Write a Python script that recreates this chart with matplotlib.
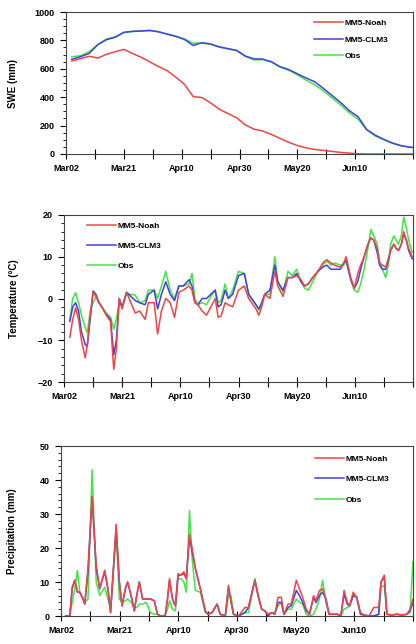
import matplotlib.pyplot as plt
from matplotlib.ticker import MultipleLocator

plt.rcParams['font.family'] = ['Liberation Sans', 'DejaVu Sans']
plt.rcParams['font.weight'] = 'bold'

# x axis: days after Mar02
tick_days = [0, 20, 40, 60, 80, 100]
tick_labels = ['Mar02', 'Mar21', 'Apr10', 'Apr30', 'May20', 'Jun10']
series_names = ['MM5-Noah', 'MM5-CLM3', 'Obs']

# SWE (mm), every 3 days
swe_days = [2, 5, 8, 11, 14, 17, 20, 23, 26, 29, 32, 35, 38, 41, 44, 47, 50, 53, 56, 59,
            62, 65, 68, 71, 74, 77, 80, 83, 86, 89, 92, 95, 98, 101, 104, 107, 110, 113,
            116, 119, 122]
swe_noah = [655, 672, 688, 676, 702, 720, 737, 708, 681, 648, 616, 587, 540, 490, 404, 398,
            360, 315, 285, 255, 205, 175, 162, 138, 110, 82, 60, 43, 32, 25, 18, 11, 6, 2,
            0, 0, 0, 0, 0, 0, 0]
swe_clm3 = [667, 685, 708, 770, 805, 822, 857, 864, 866, 871, 860, 844, 829, 806, 764, 784,
            775, 755, 742, 730, 690, 670, 668, 650, 615, 595, 565, 535, 509, 462, 412, 362,
            305, 262, 172, 132, 102, 76, 58, 48, 43]
swe_obs = [685, 692, 720, 770, 810, 825, 855, 862, 866, 868, 862, 845, 828, 810, 780, 782,
           772, 752, 740, 728, 688, 662, 665, 648, 612, 590, 558, 520, 488, 445, 395, 345,
           290, 245, 170, 126, 100, 75, 57, 47, 42]

# Temperature (degC)
t_days = [2, 3, 4, 5, 6, 7.3, 8, 9, 10, 11, 12, 13, 14.5, 16, 17.1, 18, 19, 20, 21.5, 23,
          24.5, 26, 27.9, 29, 31, 32.2, 33.5, 35, 36.5, 38, 39.5, 41, 43, 44, 45, 46, 47.5,
          49, 50.5, 52, 53, 54, 55.4, 56.5, 58, 60, 62, 63.5, 64.5, 66, 67, 68, 69, 70.8,
          72.5, 73.5, 75.3, 77, 78.5, 80, 81.5, 82.7, 84, 85.5, 87.3, 89, 90.3, 91.8, 93,
          95, 96.2, 97, 98.6, 99.8, 101, 102, 103.2, 104.5, 105.5, 106.5, 107.7, 108.5,
          109.5, 110.6, 111.5, 112.3, 113.4, 114.2, 115, 116, 116.8, 117.7, 118.5, 119.7]
t_noah = [-9.3, -5, -2.2, -5, -10, -14.2, -11, -4, 1.5, 0.5, -1, -2, -4, -5.5, -17, -12, 0,
          -2.5, 1.5, -1, -3.5, -3, -5, -1, -1, -8.5, -3, 0, -1, -4.5, 1.5, 2, 3, 2, -1,
          -1.5, -3, -4, -2, 0, -4.5, -4.2, -1, -1.5, -2, 2, 3, 0, -1, -2.5, -4, -2, 1, 0,
          6.5, 3, 0.5, 5, 5, 5.5, 4.5, 3, 3.5, 5, 6.5, 8.5, 9.3, 8.5, 8, 7.5, 8.5, 10, 5,
          2.5, 6, 8, 10, 13, 14.5, 14, 12, 8.5, 8, 7.5, 9.5, 11.5, 13, 12, 11.5, 13, 16,
          14, 12, 10]
t_clm3 = [-5.5, -2, -1, -3, -8, -11, -11.5, -5, 1.8, 1, -1, -2, -3.8, -5, -13.5, -10, 0,
          -2, 1.5, 0.5, -0.5, -1, -1.5, 1, 2, -2.5, 1, 4, 1, -0.5, 3, 3, 4.5, 3, -1, -1.5,
          0, 0, 1, 2, -2, -1.5, 2, 0, 1, 5.5, 6, 1, 0, -1.5, -2.5, -1, 1, 2, 8, 4, 2, 5,
          5, 6, 4, 3, 3.5, 5, 6.5, 7.5, 8, 7, 7, 7, 8.5, 9, 4.5, 2.5, 4, 7, 10, 13, 14.5,
          14, 11, 8, 7, 7, 9, 11.5, 13, 12, 11.5, 13, 15.5, 14, 11.5, 9.5]
t_obs = [-5, 0, 1.4, -1, -4, -7, -8.2, -3, -1, 0.5, -1, -2, -3.5, -4.5, -7.4, -5, -1, -2,
         1, 1, 0.8, -1, -0.5, 2, 2, 0, 3, 6.5, 2, 0, 3, 3, 3.5, 6, 0, -1.5, -1, -1.5, 0.5,
         2, -1, -0.5, 3.5, 0, 2, 6.5, 6, 1, 0, -1.5, -2.8, -1, 1, 1, 10, 4, 1.5, 6.5, 5.5,
         7, 4, 2.5, 2, 4, 6.5, 8, 9, 8, 8.5, 8, 8, 9.5, 4.5, 2, 1.5, 3.5, 7, 12, 16.5, 15,
         13, 9, 7, 5, 8, 13, 15, 14, 13, 15, 19.5, 17, 14, 11]

# Precipitation (mm)
p_days = [1.6, 3, 3.8, 4.7, 5.6, 6.4, 7.5, 8.1, 9.2, 10.6, 12, 13.2, 14.9, 16, 16.9, 18.8,
          19.9, 20.8, 22, 22.7, 23.9, 25, 25.8, 26.7, 27.8, 29, 30.5, 31.8, 32.9, 34, 35.5,
          36.3, 37, 38, 39, 39.9, 40.8, 41.9, 42.7, 43.8, 44.7, 45.8, 47.5, 49.2, 50.1,
          51.5, 53.2, 54.3, 56, 57.1, 58, 58.8, 60.5, 62.7, 63.9, 66.1, 67.2, 68.4, 69.5,
          70.6, 71.7, 72.9, 74, 75.1, 76, 77.4, 78.5, 80.2, 81.3, 82.4, 83.6, 84.7, 86.1,
          86.9, 88.1, 89.2, 90.3, 91.4, 92.6, 94.3, 95.4, 96.5, 97.6, 98.4, 99.6, 100.8,
          102.1, 103.3, 105, 106.6, 108.3, 109.1, 110.2, 111.1, 112.8, 114.5, 116.2,
          117.9, 119, 120]
p_noah = [0, 0, 8.5, 10.5, 7, 7, 5, 3.5, 14, 35, 15, 8, 13.5, 8, 1, 27, 10, 3, 8.5, 10, 6,
          1.5, 6, 10, 5, 5, 5, 4.5, 0.5, 0, 0, 5, 11, 5, 3, 12.5, 12, 13, 11, 24, 20, 14, 8,
          1.5, 0.5, 1, 3.5, 0.5, 0, 9, 4, 0.5, 0, 2.5, 2.5, 10.5, 6, 2, 1.5, 0.5, 1, 0.5,
          5.5, 5.5, 0.5, 3.5, 3.5, 10.5, 8, 5.5, 2, 0.5, 6, 4.5, 7.5, 8, 5, 0.5, 0.5, 0.5,
          0, 7.5, 4, 3, 7, 5.5, 1, 0.3, 0, 2.5, 2.5, 10, 12, 0.5, 0.3, 0.5, 0.3, 0.5, 2, 5]
p_clm3 = [0, 0, 8, 10.5, 7, 7, 5, 3.5, 13, 35, 14, 8, 13, 8, 1, 26, 10, 3, 8, 10, 6, 1.5,
          6, 10, 5, 5, 5, 4.5, 0.5, 0, 0, 5, 10.5, 5, 3, 12, 12, 12.5, 11, 23, 19, 14, 8,
          1.5, 0.5, 1, 3.5, 0.5, 0, 8.5, 4, 0.5, 0, 1, 2.5, 10.5, 6, 2, 1.5, 0, 1, 0.5, 4,
          4, 0.5, 2.5, 3, 7.5, 6, 4, 1.5, 0.5, 5.5, 4, 6, 7, 5, 0.5, 0.5, 0.5, 0, 6.5, 3.5,
          3, 6, 5.5, 0.5, 0.3, 0, 0, 0.5, 10, 11.5, 0.5, 0.3, 0.5, 0.3, 0.5, 1.5, 4]
p_obs = [0, 0, 4, 8, 13.4, 7, 5, 4, 5, 43, 10, 6, 8.5, 5, 2, 24, 5, 4, 4.5, 5, 4, 2.5,
         2.5, 3.5, 3.5, 4, 1, 0.5, 0.5, 0, 0, 2, 4.5, 2, 1.5, 11, 11, 10, 7, 31, 17, 7.5,
         7, 1, 0.5, 1, 3.5, 0.5, 0, 6, 5.8, 0.5, 0, 1, 1, 11, 6, 2, 1.5, 0.5, 1, 1, 3, 4,
         0.5, 2, 2, 5, 4, 3.5, 0.5, 0, 0.5, 2, 5, 10.5, 4, 0.5, 0.5, 0.5, 0, 2, 2.5, 3, 6,
         5.5, 0.5, 0.3, 0, 0, 0.5, 8.5, 9, 0.5, 0.3, 0.5, 0.3, 0.5, 1, 16]

colors = ['#f24444', '#4040e6', '#44e444']

fig = plt.figure(figsize=(4.16, 6.44), dpi=100)
W, H = 416, 644


def make_axes(left, top, bottom, right=413):
    return fig.add_axes([left / W, 1 - bottom / H, (right - left) / W, (bottom - top) / H])


def style(ax, ylim, ymajor, yminor, ylabel, labelx):
    ax.set_xlim(0, 120)
    ax.set_ylim(*ylim)
    ax.set_xticks(range(0, 121, 10))
    ax.set_xticklabels([tick_labels[tick_days.index(d)] if d in tick_days else ''
                        for d in range(0, 121, 10)])
    ax.yaxis.set_major_locator(MultipleLocator(ymajor))
    ax.yaxis.set_minor_locator(MultipleLocator(yminor))
    ax.tick_params(axis='x', direction='inout', length=7, width=0.8, pad=4,
                   labelsize=6.5, top=False)
    ax.tick_params(axis='y', which='major', direction='out', length=4, width=0.8, pad=4,
                   labelsize=6.5, right=False)
    ax.tick_params(axis='y', which='minor', direction='out', length=2.2, width=0.6,
                   right=False)
    for lab in ax.get_xticklabels() + ax.get_yticklabels():
        lab.set_fontweight('bold')
    for s in ax.spines.values():
        s.set_linewidth(0.8)
        s.set_color('#444444')
    ax.set_ylabel(ylabel, fontsize=7, fontweight='bold')
    ax.yaxis.set_label_coords(labelx, 0.5)


def draw(ax, days, noah, clm3, obs):
    l3, = ax.plot(days, obs, color=colors[2], lw=1.1)
    l2, = ax.plot(days, clm3, color=colors[1], lw=1.1)
    l1, = ax.plot(days, noah, color=colors[0], lw=1.1)
    return [l1, l2, l3]


def add_legend(ax, handles, x, y, spacing):
    ax.legend(handles, series_names, loc='upper left', bbox_to_anchor=(x / W, 1 - y / H),
              bbox_transform=fig.transFigure, frameon=False, borderpad=0,
              handlelength=3.4, handletextpad=0.2, labelspacing=spacing,
              prop={'size': 6, 'weight': 'bold'})


# SWE
ax1 = make_axes(66, 12, 154)
h = draw(ax1, swe_days, swe_noah, swe_clm3, swe_obs)
style(ax1, (0, 1000), 200, 50, 'SWE (mm)', -0.137)
add_legend(ax1, h, 310, 15, 1.05)

# Temperature
ax2 = make_axes(64, 215, 382)
h = draw(ax2, t_days, t_noah, t_clm3, t_obs)
style(ax2, (-20, 20), 10, 2, 'Temperature (\u00b0C)', -0.13)
add_legend(ax2, h, 83, 218, 1.45)

# Precipitation
ax3 = make_axes(61, 446, 616)
h = draw(ax3, p_days, p_noah, p_clm3, p_obs)
style(ax3, (0, 50), 10, 2, 'Precipitation (mm)', -0.125)
add_legend(ax3, h, 311, 451, 1.5)

fig.savefig('out.png', dpi=100)
